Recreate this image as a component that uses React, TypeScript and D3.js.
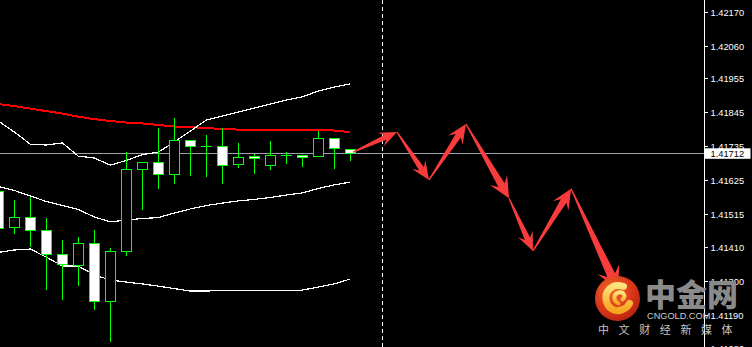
import React from "react";
import * as d3 from "d3";

// ---- data ----
const priceTicks = [1.4217, 1.4206, 1.41955, 1.41845, 1.41735, 1.41625, 1.41515, 1.4141, 1.413, 1.4119, 1.4108];

const opens = [1.41591, 1.41473, 1.41506, 1.41464, 1.41386, 1.4135, 1.41422, 1.41234, 1.41396, 1.41661, 1.41684, 1.41645, 1.41755, 1.41736, 1.41736, 1.41678, 1.41703, 1.41674, 1.41707, 1.41707, 1.41703, 1.41762, 1.41726];
const highs = [1.4161, 1.41561, 1.41571, 1.41503, 1.41431, 1.41441, 1.41464, 1.41405, 1.41716, 1.41684, 1.41794, 1.41827, 1.41755, 1.41771, 1.41794, 1.41746, 1.4171, 1.41752, 1.41716, 1.41707, 1.41784, 1.41762, 1.41726];
const lows = [1.41457, 1.41454, 1.41412, 1.41273, 1.4124, 1.41286, 1.41208, 1.41104, 1.41383, 1.41532, 1.416, 1.41616, 1.41642, 1.41639, 1.41616, 1.41668, 1.41648, 1.41661, 1.41681, 1.41671, 1.41703, 1.41665, 1.4169];
const closes = [1.41469, 1.41506, 1.41464, 1.41386, 1.41354, 1.41422, 1.41234, 1.41396, 1.41661, 1.41684, 1.41645, 1.41755, 1.41736, 1.41736, 1.41674, 1.417, 1.41697, 1.41707, 1.41707, 1.417, 1.41762, 1.41729, 1.41712];

const upperBand = [1.41817, 1.41781, 1.41742, 1.41739, 1.41746, 1.41703, 1.41697, 1.41674, 1.41689, 1.41708, 1.41716, 1.41749, 1.41784, 1.4182, 1.41833, 1.41846, 1.41859, 1.41872, 1.41885, 1.41895, 1.41914, 1.41927, 1.41937];
const middleBand = [1.41605, 1.41592, 1.41574, 1.41556, 1.41543, 1.4153, 1.41506, 1.4149, 1.41496, 1.41501, 1.41504, 1.41519, 1.41532, 1.41543, 1.41551, 1.41558, 1.41563, 1.41569, 1.41577, 1.41584, 1.41598, 1.4161, 1.41619];
const lowerBand = [1.41391, 1.41399, 1.41402, 1.41376, 1.41347, 1.41347, 1.41318, 1.41302, 1.41295, 1.41289, 1.41282, 1.41274, 1.41266, 1.41266, 1.41268, 1.41268, 1.41268, 1.41268, 1.41268, 1.41269, 1.41279, 1.41289, 1.41305];
const redMA = [1.41872, 1.41865, 1.41857, 1.41849, 1.41841, 1.41831, 1.41823, 1.41817, 1.41812, 1.41809, 1.41804, 1.41799, 1.41797, 1.41794, 1.41791, 1.41789, 1.41789, 1.41789, 1.41789, 1.41788, 1.41788, 1.41786, 1.41781];

const currentPrice = 1.41712;
const separatorBar = 24;

// forecast zig-zag arrows (bar position, price)
const forecastBars = [22.17, 24.92, 26.92, 29.23, 31.92, 33.42, 35.8, 38.74];
const forecastPrices = [1.41716, 1.41781, 1.41626, 1.41807, 1.41567, 1.41396, 1.41597, 1.41269];

const W = 752;
const H = 347;

function arrowPath(x0: number, y0: number, x1: number, y1: number) {
  const dx = x1 - x0;
  const dy = y1 - y0;
  const L = Math.hypot(dx, dy);
  const ux = dx / L, uy = dy / L;
  const nx = -uy, ny = ux;
  const head = 14 + 0.08 * L;
  const hw = 4 + 0.07 * L;
  const p = (t: number, w: number) => [x0 + ux * t + nx * w, y0 + uy * t + ny * w];
  const pts = [
    p(0, 0.6),
    p(L - head * 0.72, hw * 0.36),
    p(L - head, hw),
    [x1, y1],
    p(L - head, -hw),
    p(L - head * 0.72, -hw * 0.36),
    p(0, -0.6),
  ];
  return "M" + pts.map((q) => q[0].toFixed(2) + "," + q[1].toFixed(2)).join("L") + "Z";
}

export default function App() {
  const x = d3.scaleLinear().domain([0, 22]).range([-1.7, 350.3]);
  const y = d3.scaleLinear().domain([1.4119, 1.4217]).range([314.5, 12]);
  const axisX = 704.5;

  const line = d3
    .line<number>()
    .x((_, i) => x(i))
    .y((d) => y(d));

  const curY = Math.round(y(currentPrice)) + 0.5;
  const sepX = Math.round(x(separatorBar)) + 0.5;

  const candles = opens.map((o, i) => {
    const c = closes[i];
    const cx = Math.round(x(i));
    const wx = cx + 0.5;
    const yTop = Math.round(y(Math.max(o, c)));
    const yBot = Math.round(y(Math.min(o, c)));
    const hi = Math.round(y(highs[i]));
    const lo = Math.round(y(lows[i]));
    const bear = c < o;
    return (
      <g key={i}>
        <line x1={wx} x2={wx} y1={hi} y2={lo + 1} stroke="#00ff00" strokeWidth={1} />
        {yBot - yTop < 1 ? (
          <line x1={cx - 5} x2={cx + 6} y1={yTop + 0.5} y2={yTop + 0.5} stroke="#00ff00" strokeWidth={1} />
        ) : (
          <rect
            x={cx - 4.5}
            y={yTop + 0.5}
            width={10}
            height={yBot - yTop}
            fill={bear ? "#ffffff" : "#000000"}
            stroke="#00ff00"
            strokeWidth={1}
          />
        )}
      </g>
    );
  });

  const arrows = forecastBars.slice(0, -1).map((b, i) => {
    const x0 = x(b), y0 = y(forecastPrices[i]);
    const x1 = x(forecastBars[i + 1]), y1 = y(forecastPrices[i + 1]);
    return <path key={i} d={arrowPath(x0, y0, x1, y1)} fill="#f83c3c" />;
  });

  const lcx = 617.5, lcy = 298.5;

  return (
    <svg
      width={W}
      height={H}
      style={{ position: "absolute", left: 0, top: 0, background: "#000", display: "block" }}
      fontFamily="'Liberation Sans', Arial, sans-serif"
    >
      <defs>
        <radialGradient id="logoRed" cx="38%" cy="32%" r="75%">
          <stop offset="0" stopColor="#f2682a" />
          <stop offset="0.55" stopColor="#dc3a1b" />
          <stop offset="1" stopColor="#b71f10" />
        </radialGradient>
        <linearGradient id="logoYel" x1="0" y1="0" x2="0" y2="1">
          <stop offset="0" stopColor="#ffe37c" />
          <stop offset="1" stopColor="#f7a51e" />
        </linearGradient>
      </defs>
      <rect x={0} y={0} width={W} height={H} fill="#000" />

      {/* current price line */}
      <line x1={0} x2={axisX} y1={curY} y2={curY} stroke="#9aa1aa" strokeWidth={1} />

      {/* indicator lines */}
      <g fill="none" shapeRendering="crispEdges">
        <path d={line(redMA) || ""} stroke="#ff0000" strokeWidth={2} />
        <path d={line(upperBand) || ""} stroke="#ffffff" strokeWidth={1.2} />
        <path d={line(middleBand) || ""} stroke="#ffffff" strokeWidth={1.2} />
        <path d={line(lowerBand) || ""} stroke="#ffffff" strokeWidth={1.2} />
      </g>

      <g shapeRendering="crispEdges">{candles}</g>

      {/* separator */}
      <line x1={sepX} x2={sepX} y1={0} y2={H} stroke="#ffffff" strokeWidth={1} strokeDasharray="4,3" shapeRendering="crispEdges" />

      {/* arrows */}
      <g>{arrows}</g>

      {/* price axis */}
      <rect x={axisX + 0.5} y={0} width={W - axisX} height={H} fill="#000" />
      <line x1={axisX} x2={axisX} y1={0} y2={H} stroke="#ffffff" strokeWidth={1} shapeRendering="crispEdges" />
      {priceTicks.map((t) => {
        const ty = Math.round(y(t)) + 0.5;
        return (
          <g key={t}>
            <line x1={axisX} x2={axisX + 3} y1={ty} y2={ty} stroke="#ffffff" strokeWidth={1} shapeRendering="crispEdges" />
            <text x={710.5} y={ty + 3.3} fill="#ffffff" fontSize={9.3}>
              {t.toFixed(5)}
            </text>
          </g>
        );
      })}
      <rect x={axisX + 0.5} y={curY - 5.2} width={45.5} height={10.5} fill="#ffffff" />
      <text x={710.5} y={curY + 3.3} fill="#000000" fontSize={9.3}>
        {currentPrice.toFixed(5)}
      </text>

      {/* logo */}
      <g>
        <circle cx={lcx} cy={lcy} r={22.5} fill="url(#logoRed)" />
        <g transform={`translate(${lcx},${lcy})`} fill="none" strokeLinecap="round">
          <path d="M6,-12 C-5,-16 -14,-7 -11,3 C-9,11 -1,14 5,11 C8,10 11,7 12,5" stroke="url(#logoYel)" strokeWidth={7} />
          <path d="M1,5 C-4,3 -5,-4 1,-6 C6,-7 9,-2 5,1" stroke="url(#logoYel)" strokeWidth={4} />
        </g>
        <text x={645} y={306} fill="#8a8a8a" fontSize={31} fontWeight={900} fontFamily="'Noto Sans CJK SC', sans-serif">
          中金网
        </text>
        <text x={647} y={319} fill="#cfcfcf" fontSize={9.2}>
          CNGOLD.COM
        </text>
        <text x={598} y={333.5} fill="#c4c4c4" fontSize={11} letterSpacing={9.6} fontFamily="'Noto Sans CJK SC', sans-serif">
          中文财经新媒体
        </text>
      </g>
    </svg>
  );
}
